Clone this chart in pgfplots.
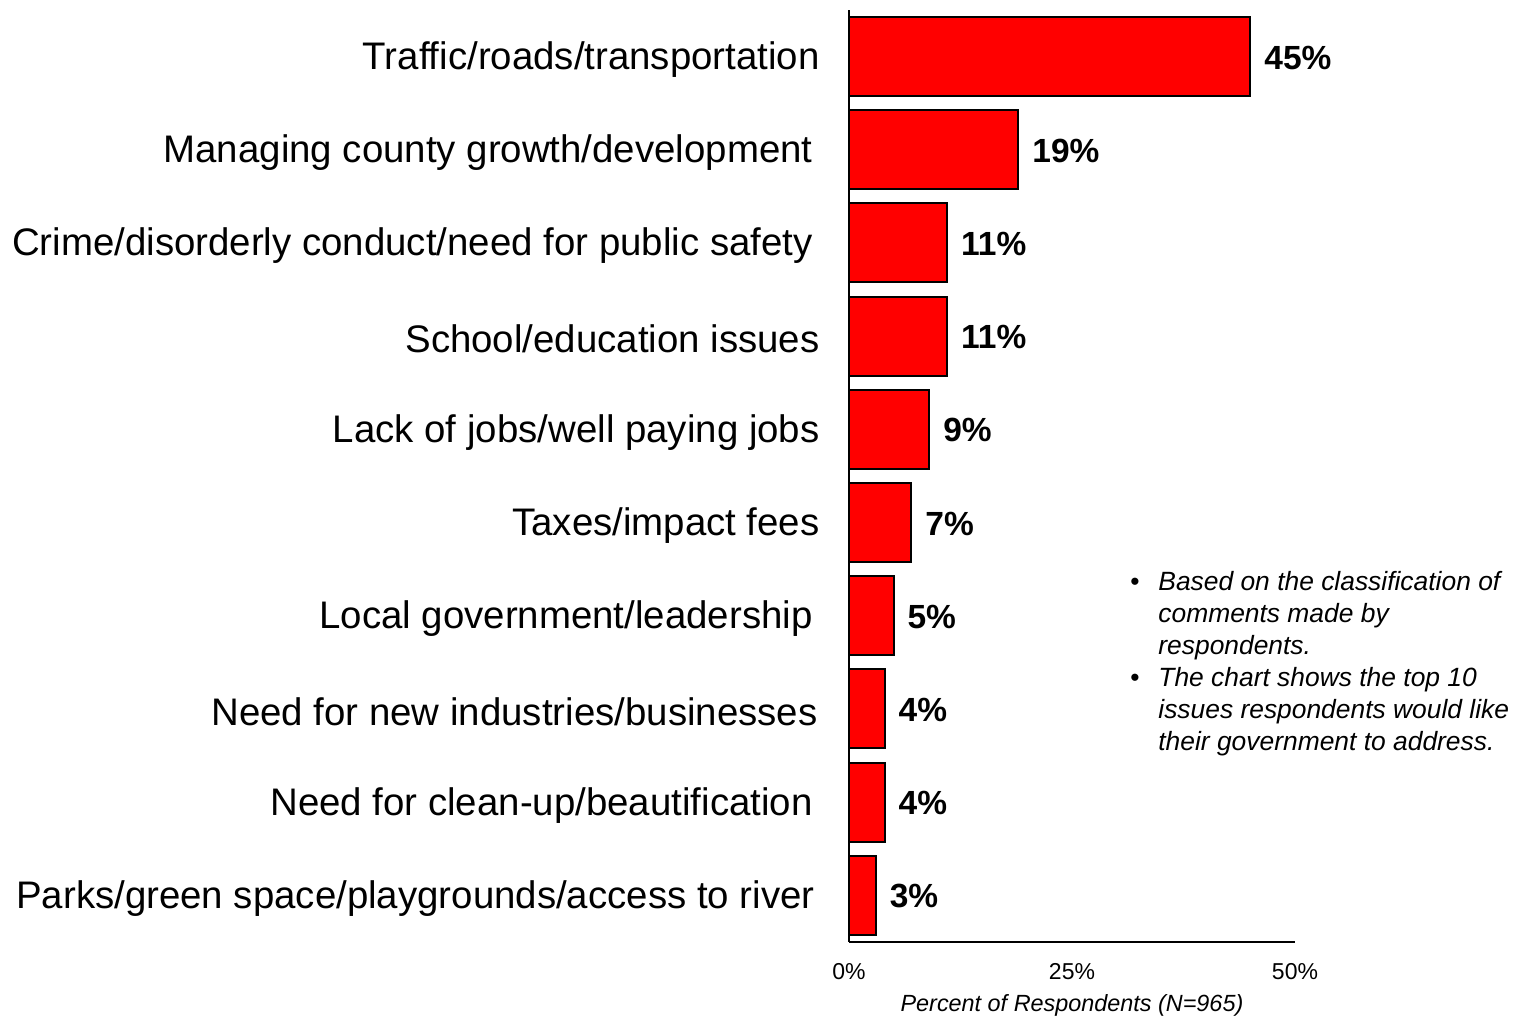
\documentclass[border=0pt]{standalone}
\usepackage{pgfplots}
\pgfplotsset{compat=1.18}
\usepackage{fontspec}
\setmainfont{Liberation Sans}
\newcommand{\pad}[1]{\rule{#1}{0pt}}
\begin{document}
\begin{tikzpicture}
\begin{axis}[
  scale only axis,
  width=223pt, height=466pt,
  at={(0,0)}, anchor=south west,
  xmin=0, xmax=50, ymin=-0.5, ymax=9.5,
  xbar, bar width=39.5pt,
  clip=false,
  axis x line*=bottom, axis y line*=left,
  axis line style={-, line width=1pt, black},
  major tick length=0pt,
  xtick={0,25,50}, xticklabels={0\%,25\%,50\%},
  xticklabel style={font=\fontsize{11.5}{13}\selectfont, inner sep=0pt, yshift=-10.5pt},
  ytick={0,...,9},
  yticklabels={
    Parks/green space/playgrounds/access to river\pad{2.5pt},
    Need for clean-up/beautification\pad{3.5pt},
    Need for new industries/businesses\pad{1pt},
    Local government/leadership\pad{3.5pt},
    Taxes/impact fees,
    Lack of jobs/well paying jobs,
    School/education issues,
    Crime/disorderly conduct/need for public safety\pad{3.5pt},
    Managing county growth/development\pad{3.5pt},
    Traffic/roads/transportation},
  yticklabel style={font=\fontsize{19.2}{23}\selectfont, inner sep=0pt, xshift=-14.5pt, yshift=-1.5pt, anchor=east},
  xlabel={\itshape Percent of Respondents (N=965)},
  xlabel style={font=\fontsize{11.7}{13}\selectfont, inner sep=0pt, yshift=-7pt},
  /pgf/number format/assume math mode=true,
  nodes near coords={\pgfmathprintnumber{\pgfplotspointmeta}\%},
  nodes near coords align={horizontal},
  every node near coord/.append style={font=\fontsize{16.75}{19}\selectfont\bfseries, inner sep=0pt, anchor=west, xshift=6.5pt, yshift=-0.5pt, black},
  point meta=x,
]
\addplot[fill={rgb,255:red,255;green,0;blue,0}, draw=black, line width=1pt] coordinates {
  (3,0) (4,1) (4,2) (5,3) (7,4) (9,5) (11,6) (11,7) (19,8) (45,9)
};
\end{axis}
\begin{scope}[font=\fontsize{13.2}{16}\selectfont\itshape]
  \node[anchor=base west, inner sep=0pt] at (140.5pt,175.75pt) {\upshape\textbullet};
  \node[anchor=base west, inner sep=0pt] at (154.5pt,175.75pt) {Based on the classification of};
  \node[anchor=base west, inner sep=0pt] at (154.5pt,159.75pt) {comments made by};
  \node[anchor=base west, inner sep=0pt] at (154.5pt,143.75pt) {respondents.};
  \node[anchor=base west, inner sep=0pt] at (140.5pt,127.75pt) {\upshape\textbullet};
  \node[anchor=base west, inner sep=0pt] at (154.5pt,127.75pt) {The chart shows the top 10};
  \node[anchor=base west, inner sep=0pt] at (154.5pt,111.75pt) {issues respondents would like};
  \node[anchor=base west, inner sep=0pt] at (154.5pt,95.75pt) {their government to address.};
\end{scope}
\pgfresetboundingbox
\path[use as bounding box] (-424.5pt,-37pt) rectangle (332.5pt,471pt);
\end{tikzpicture}
\end{document}
